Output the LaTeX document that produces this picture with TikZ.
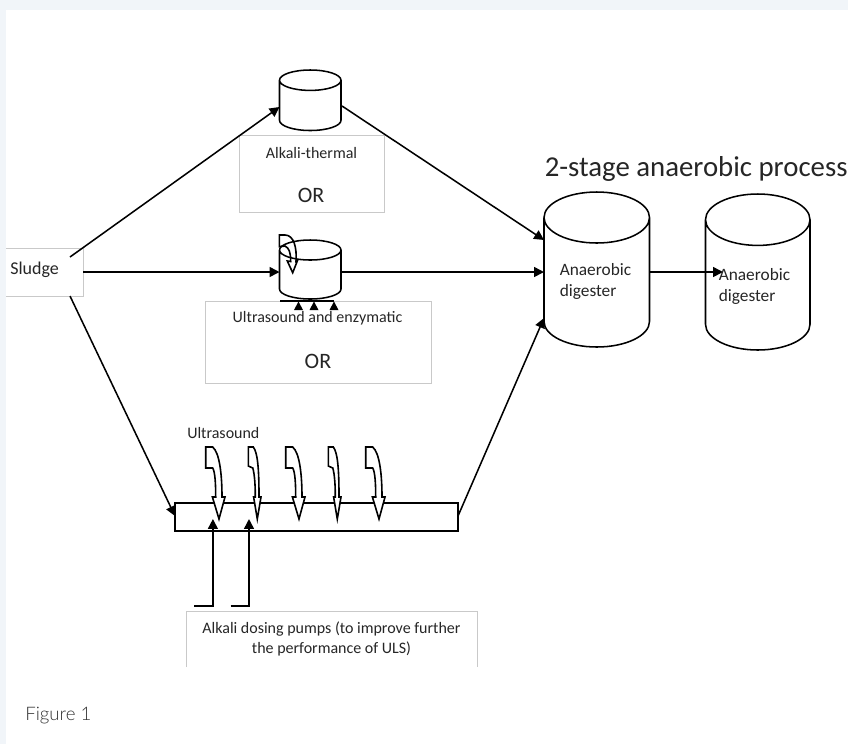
\documentclass[tikz,border=0pt]{standalone}
\usepackage{fontspec}
\setmainfont{Carlito}
\newfontfamily\figfont{Lato Light}
\usetikzlibrary{arrows.meta}
\definecolor{pagebg}{HTML}{F1F5F9}
\definecolor{boxline}{HTML}{C9C9C9}
\definecolor{ink}{HTML}{262626}
\tikzset{
  x=0.75pt,y=-0.75pt,
  flow/.style={line width=1.15pt,draw=black,-{Triangle[length=7.4pt,width=7.4pt]}},
  plainline/.style={line width=1.15pt,draw=black},
  vessel/.style={line width=1.15pt,draw=black},
  labelbox/.style={draw=boxline,line width=0.6pt},
  bent/.style={line width=1.2pt,draw=black,fill=white,line join=miter},
  lbl/.style={inner sep=0pt,text=ink,font=\fontsize{12pt}{15pt}\selectfont,align=center},
  bigor/.style={inner sep=0pt,text=ink,font=\fontsize{16.5pt}{18pt}\selectfont}
}
% name, left, right, top of rim, bottom, rim half-height
\newcommand{\vesselshape}[6]{%
  \pgfmathsetmacro{\rxv}{(#3-#2)/2*0.75}
  \pgfmathsetmacro{\ryv}{#6*0.75}
  \draw[vessel] (#2,#4+#6) arc[start angle=180,end angle=540,x radius=\rxv pt,y radius=\ryv pt]
     (#2,#4+#6) -- (#2,#5-#6) arc[start angle=180,end angle=360,x radius=\rxv pt,y radius=\ryv pt] -- (#3,#4+#6);
  \coordinate (#1) at ({(#2+#3)/2},{(#4+#5)/2});
}
\newcommand{\widebent}[1]{%
  \draw[bent,shift={(#1,0)}] (0,447) -- (0,468) -- (7,468)
    .. controls (9.5,472) and (10,485) .. (10,497) -- (6.7,497) -- (13.3,519) -- (19.3,497) -- (16.3,497)
    .. controls (16.3,475) and (14,453) .. (7,447) -- cycle;
}
\newcommand{\slimbent}[1]{%
  \draw[bent,shift={(#1,0)}] (0,447) -- (0,466) -- (4.5,468)
    .. controls (6.5,475) and (7,487) .. (7,497) -- (5.3,497) -- (9,519) -- (12.7,497) -- (10.7,497)
    .. controls (10.7,475) and (10,453) .. (5,447) -- cycle;
}
\begin{document}
\begin{tikzpicture}
\useasboundingbox (0,0) rectangle (848,744);
\fill[pagebg] (0,0) rectangle (848,744);
\fill[white] (6,10) rectangle (848,744);

% label boxes
\draw[labelbox] (6,248) -- (83,248) -- (83,296) -- (6,296);
\draw[labelbox] (239,135) rectangle (384.5,212);
\draw[labelbox] (205.5,301) rectangle (431,383);
\draw[labelbox] (186,667) -- (186,611.5) -- (477,611.5) -- (477,667);

% vessels
\vesselshape{alkali}{279.5}{341}{70}{130.5}{10.2}
\vesselshape{sono}{279.5}{341}{240}{299}{10}
\vesselshape{digA}{544}{649.5}{192}{347}{25.5}
\vesselshape{digB}{705.5}{810}{194}{350}{25.7}

% named ports
\coordinate (sU) at (70,257);
\coordinate (sM) at (83,272);
\coordinate (sD) at (70,296);
\coordinate (alkIn) at (279.5,107);
\coordinate (alkOut) at (342,106);
\coordinate (sonoIn) at (279.5,272);
\coordinate (sonoOut) at (341,272);
\coordinate (aU) at (544,240);
\coordinate (aM) at (544,272);
\coordinate (aD) at (544,318);
\coordinate (aOut) at (649.5,272);
\coordinate (bIn) at (723,272);
\coordinate (pipeIn) at (175,516);
\coordinate (pipeOut) at (458,516);

% pipe reactor
\node[draw=black,line width=1.15pt,inner sep=0pt,minimum width=212.25pt,minimum height=21pt] (pipe) at (316.5,517) {};

% connectors
\draw[flow] (sU) -- (alkIn);
\draw[flow] (sM) -- (sonoIn);
\draw[flow] (sD) -- (pipeIn);
\draw[flow] (alkOut) -- (aU);
\draw[flow] (sonoOut) -- (aM);
\draw[flow] (pipeOut) -- (aD);
\draw[flow] (aOut) -- (bIn);

% transducers under vessel
\coordinate (baseL) at (280,301);
\coordinate (baseR) at (334,301);
\draw[plainline] (baseL) -- (baseR);
\foreach \px in {298.5,314,334}{
  \fill[black] (\px-4.5,310) -- (\px,301.5) -- (\px+4.5,310) -- cycle;
}

% curved arrow on the vessel
\draw[line width=1.2pt,draw=black,line join=miter] (279.3,235) -- (279.3,246.7) -- (285,246)
  .. controls (289,248) and (290.7,252) .. (290.7,261.5) -- (287.3,261) -- (292.7,272.7) -- (297.3,261) -- (296,261.5)
  .. controls (297,248) and (294,235) .. (285,235) -- cycle;

% ultrasound arrows
\widebent{205.7}
\slimbent{248.3}
\widebent{285.7}
\slimbent{328.3}
\widebent{365.7}

% dosing lines
\coordinate (d1a) at (194,606);
\coordinate (d1b) at (212.9,606);
\coordinate (d1c) at (212.9,519);
\coordinate (d2a) at (230.7,606);
\coordinate (d2b) at (249,606);
\coordinate (d2c) at (249,519);
\draw[flow] (d1a) -- (d1b) -- (d1c);
\draw[flow] (d2a) -- (d2b) -- (d2c);

% texts
\node[lbl,anchor=west,font=\fontsize{13.5pt}{16pt}\selectfont] (tSludge) at (10,269.5) {Sludge};
\node[lbl] (tAT) at (311.5,153) {Alkali-thermal};
\node[bigor] (or1) at (311,195) {OR};
\node[lbl] (tUE) at (317.5,318.5) {Ultrasound and enzymatic};
\node[bigor] (or2) at (318,361) {OR};
\node[lbl,anchor=west] (tUS) at (187,433) {Ultrasound};
\node[lbl,align=center] (tDose) at (331.5,638.5) {Alkali dosing pumps (to improve further\\the performance of ULS)};
\node[lbl,anchor=west,align=left,font=\fontsize{13pt}{15.8pt}\selectfont] (tA) at (559.5,281.5) {Anaerobic\\digester};
\node[lbl,anchor=west,align=left,font=\fontsize{13pt}{15.8pt}\selectfont] (tB) at (718.5,286) {Anaerobic\\digester};
\node[inner sep=0pt,text=ink,anchor=west,font=\fontsize{21.6pt}{24pt}\selectfont] (title) at (544.5,168.5) {2-stage anaerobic process};
\node[inner sep=0pt,text=black!80,anchor=west,font=\figfont\fontsize{14pt}{16pt}\selectfont] (fig) at (25,716) {Figure 1};
\end{tikzpicture}
\end{document}
